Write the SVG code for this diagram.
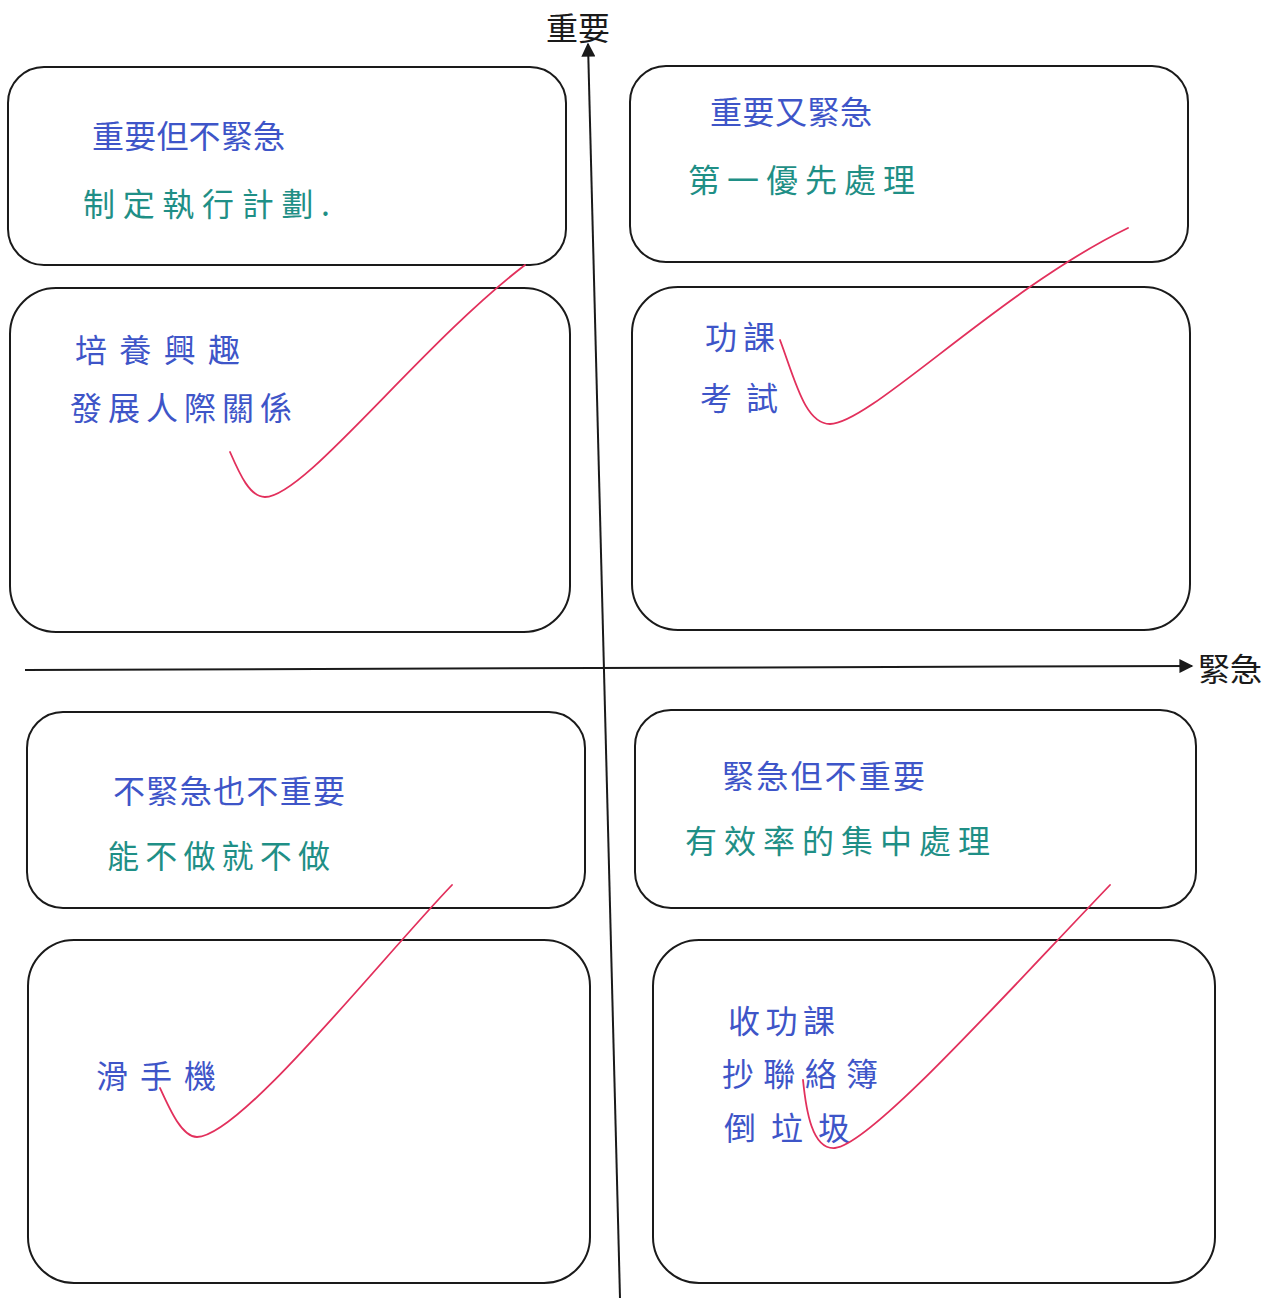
<svg xmlns="http://www.w3.org/2000/svg" width="1276" height="1298" viewBox="0 0 1276 1298">
<defs>
<style>
.box{fill:none;stroke:#1a1a1a;stroke-width:2}
.axis{fill:none;stroke:#1a1a1a;stroke-width:2}
.b{fill:#3e55c8;font-family:"Noto Sans CJK TC","Noto Sans CJK SC",sans-serif;font-size:32px}
.g{fill:#1f8f86;font-family:"Noto Sans CJK TC","Noto Sans CJK SC",sans-serif;font-size:32px}
.ax{fill:#1a1a1a;font-family:"Noto Sans CJK TC","Noto Sans CJK SC",sans-serif;font-size:32px}
.chk{fill:none;stroke:#e2305c;stroke-width:1.8;stroke-linecap:round}
</style>
<marker id="arr2" viewBox="0 0 10 10" refX="9" refY="5" markerWidth="16" markerHeight="14" orient="auto" markerUnits="userSpaceOnUse"><path d="M0,0 L10,5 L0,10 z" fill="#1a1a1a"/></marker>
</defs>
<rect width="1276" height="1298" fill="#ffffff"/>
<g id="connectors">
<path class="axis" d="M620,1298 L588,44" marker-end="url(#arr2)"/>
<path class="axis" d="M25,670 L1192,666" marker-end="url(#arr2)"/>
</g>
<g id="axis-labels">
<text class="ax" x="578" y="40" text-anchor="middle">重要</text>
<text class="ax" x="1198" y="681" textLength="64">緊急</text>
</g>
<g id="box-tl-top"><rect class="box" x="8" y="67" width="558" height="198" rx="36"/>
<text class="b" x="92" y="148" textLength="193">重要但不緊急</text>
<text class="g" x="83" y="216" textLength="247">制定執行計劃.</text></g>
<g id="box-tl-bottom"><rect class="box" x="10" y="288" width="560" height="344" rx="46"/>
<text class="b" x="75" y="362" textLength="165">培養興趣</text>
<text class="b" x="70" y="420" textLength="222">發展人際關係</text></g>
<g id="box-tr-top"><rect class="box" x="630" y="66" width="558" height="196" rx="36"/>
<text class="b" x="710" y="124" textLength="162">重要又緊急</text>
<text class="g" x="688" y="192" textLength="227">第一優先處理</text></g>
<g id="box-tr-bottom"><rect class="box" x="632" y="287" width="558" height="343" rx="46"/>
<text class="b" x="705" y="349" textLength="70">功課</text>
<text class="b" x="700" y="410" textLength="78">考試</text></g>
<g id="box-bl-top"><rect class="box" x="27" y="712" width="558" height="196" rx="36"/>
<text class="b" x="113" y="803" textLength="232">不緊急也不重要</text>
<text class="g" x="107" y="868" textLength="223">能不做就不做</text></g>
<g id="box-bl-bottom"><rect class="box" x="28" y="940" width="562" height="343" rx="46"/>
<text class="b" x="96" y="1088" textLength="120">滑手機</text></g>
<g id="box-br-top"><rect class="box" x="635" y="710" width="561" height="198" rx="36"/>
<text class="b" x="722" y="788" textLength="203">緊急但不重要</text>
<text class="g" x="685" y="853" textLength="305">有效率的集中處理</text></g>
<g id="box-br-bottom"><rect class="box" x="653" y="940" width="562" height="343" rx="46"/>
<text class="b" x="728" y="1033" textLength="107">收功課</text>
<text class="b" x="722" y="1086" textLength="156">抄聯絡簿</text>
<text class="b" x="724" y="1140" textLength="126">倒垃圾</text></g>
<g id="checkmarks">
<path class="chk" d="M230,452 C240,475 250,497 265,497 C305,497 420,345 525,265"/>
<path class="chk" d="M780,340 C795,380 805,424 830,424 C870,424 1000,290 1128,228"/>
<path class="chk" d="M160,1088 C170,1110 182,1137 197,1137 C240,1137 380,960 452,885"/>
<path class="chk" d="M803,1080 C806,1110 812,1150 835,1148 C870,1145 1000,1000 1110,885"/>
</g>
</svg>
